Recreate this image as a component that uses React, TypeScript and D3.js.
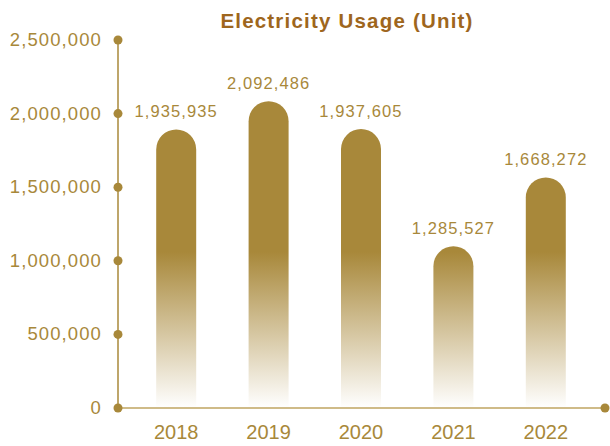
import React from "react";
import * as d3 from "d3";

const years: string[] = ["2018", "2019", "2020", "2021", "2022"];
const usage: number[] = [1935935, 2092486, 1937605, 1285527, 1668272];
const yTicks: number[] = [0, 500000, 1000000, 1500000, 2000000, 2500000];
const title = "Electricity Usage (Unit)";

const W = 610;
const H = 446;
const GOLD = "#a8883a";
const TITLE = "#9e661d";
const XAXIS = "#cfbb88";
const FONT = "'Liberation Sans', Arial, Helvetica, sans-serif";

export default function App() {
  const x0 = 118;
  const x1 = 605;
  const y0 = 408;
  const yTop = 40;

  const y = d3.scaleLinear().domain([0, 2500000]).range([y0, yTop]);
  // bars are drawn on their own scale whose baseline starts above zero
  const barBase = (d3.min(usage) as number) * 0.3;
  const yBar = d3.scaleLinear().domain([barBase, 2500000]).range([y0, 28]);
  const x = d3.scaleBand<string>().domain(years).range([130, 592]).padding(0);
  const barW = 40;
  const r = barW / 2;
  const fmt = d3.format(",");

  const barPath = (cx: number, top: number) => {
    const p = d3.path();
    const l = cx - barW / 2;
    const rr = cx + barW / 2;
    p.moveTo(l, y0);
    p.lineTo(l, top + r);
    p.arc(cx, top + r, r, Math.PI, 0);
    p.lineTo(rr, y0);
    p.closePath();
    return p.toString();
  };

  return (
    <div style={{ position: "absolute", left: 0, top: 0 }}>
      <svg width={W} height={H} style={{ display: "block" }}>
        <defs>
          <linearGradient id="barGrad" gradientUnits="userSpaceOnUse" x1="0" y1="252" x2="0" y2={y0}>
            <stop offset="0" stopColor={GOLD} stopOpacity={1} />
            <stop offset="0.5" stopColor={GOLD} stopOpacity={0.5} />
            <stop offset="1" stopColor={GOLD} stopOpacity={0.0} />
          </linearGradient>
        </defs>
        <rect x={0} y={0} width={W} height={H} fill="#ffffff" />
        <text
          x={347}
          y={28}
          textAnchor="middle"
          fontFamily={FONT}
          fontWeight="bold"
          fontSize={20.5}
          letterSpacing={1.2}
          fill={TITLE}
        >
          {title}
        </text>

        {usage.map((v, i) => {
          const cx = (x(years[i]) as number) + x.bandwidth() / 2;
          const top = yBar(v);
          return (
            <g key={years[i]}>
              <path d={barPath(cx, top)} fill="url(#barGrad)" />
              <text
                x={cx}
                y={top - 12}
                textAnchor="middle"
                fontFamily={FONT}
                fontSize={16.5}
                letterSpacing={1.1}
                fill={GOLD}
              >
                {fmt(v)}
              </text>
            </g>
          );
        })}

        <line x1={x0} x2={x1} y1={y0} y2={y0} stroke={XAXIS} strokeWidth={2} />
        <line x1={x0} x2={x0} y1={yTop} y2={y0} stroke={GOLD} strokeWidth={1.5} />
        <circle cx={x1} cy={y0} r={4.5} fill={GOLD} />
        {yTicks.map((t) => (
          <g key={t}>
            <circle cx={x0} cy={y(t)} r={4.5} fill={GOLD} />
            <text
              x={102}
              y={y(t) + 6}
              textAnchor="end"
              fontFamily={FONT}
              fontSize={18.5}
              letterSpacing={1.1}
              fill={GOLD}
            >
              {fmt(t)}
            </text>
          </g>
        ))}

        {years.map((yr) => (
          <text
            key={yr}
            x={(x(yr) as number) + x.bandwidth() / 2}
            y={439}
            textAnchor="middle"
            fontFamily={FONT}
            fontSize={20}
            fill={GOLD}
          >
            {yr}
          </text>
        ))}
      </svg>
    </div>
  );
}
